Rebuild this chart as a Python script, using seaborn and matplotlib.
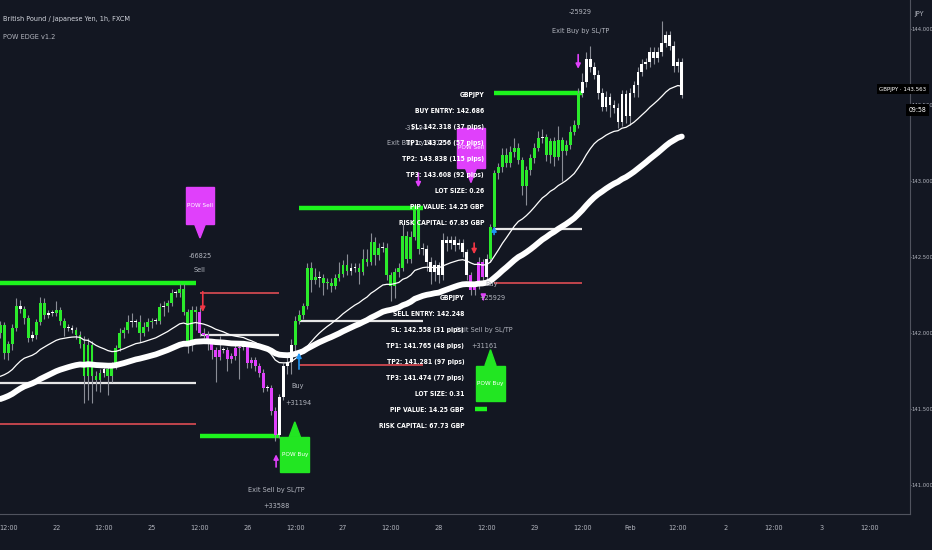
import numpy as np
import matplotlib
matplotlib.use("Agg")
import matplotlib.pyplot as plt
import seaborn as sns
from matplotlib.patches import Rectangle, Polygon

# ---- candle data (GBPJPY 1h) ----
first_open = 142.00
closes = [
    142.05, 141.87, 141.93, 142.03, 142.18, 142.16, 142.10, 141.97, 141.99, 142.07,
    142.20, 142.12, 142.13, 142.13, 142.15, 142.08, 142.03, 142.03, 142.02, 141.99,
    141.93, 141.72, 141.92, 141.72, 141.69, 141.74, 141.76, 141.72, 141.79, 141.90,
    142.00, 142.02, 142.07, 142.07, 142.07, 142.00, 142.04, 142.07, 142.08, 142.08,
    142.17, 142.18, 142.20, 142.26, 142.26, 142.29, 142.14, 141.94, 142.15, 142.14,
    142.00, 141.99, 141.93, 141.89, 141.84, 141.89, 141.89, 141.83, 141.85, 141.90,
    141.91, 141.91, 141.80, 141.82, 141.78, 141.74, 141.64, 141.64, 141.49, 141.33,
    141.58, 141.78, 141.81, 141.92, 142.08, 142.12, 142.18, 142.43, 142.35, 142.37,
    142.36, 142.33, 142.33, 142.31, 142.36, 142.39, 142.45, 142.41, 142.43, 142.43,
    142.40, 142.49, 142.47, 142.60, 142.51, 142.56, 142.56, 142.38, 142.31, 142.40,
    142.43, 142.64, 142.49, 142.63, 142.82, 142.55, 142.55, 142.47, 142.40, 142.45,
    142.38, 142.61, 142.59, 142.61, 142.58, 142.59, 142.53, 142.38, 142.28, 142.31,
    142.47, 142.37, 142.49, 142.70, 143.05, 143.09, 143.17, 143.12, 143.19, 143.22,
    143.14, 142.97, 143.07, 143.15, 143.22, 143.28, 143.29, 143.17, 143.26, 143.16,
    143.27, 143.20, 143.24, 143.32, 143.37, 143.58, 143.65, 143.80, 143.75, 143.70,
    143.58, 143.49, 143.55, 143.50, 143.48, 143.39, 143.57, 143.43, 143.58, 143.63,
    143.72, 143.77, 143.78, 143.85, 143.81, 143.85, 143.91, 143.96, 143.89, 143.76,
    143.78, 143.563,
]
# wicks beyond the body, in pips
wick_up = [
    3, 2, 2, 3, 5, 4, 2, 2, 2, 2, 4, 3, 2, 2, 6, 2, 2, 3, 2, 2,
    2, 5, 5, 3, 3, 2, 2, 3, 2, 2, 3, 2, 5, 6, 2, 5, 3, 3, 2, 2,
    3, 3, 2, 3, 2, 3, 3, 2, 3, 3, 3, 3, 2, 2, 2, 9, 2, 2, 2, 2,
    2, 2, 3, 2, 2, 2, 2, 2, 2, 2, 2, 2, 3, 4, 3, 3, 2, 3, 4, 6,
    4, 3, 3, 3, 3, 8, 3, 7, 3, 3, 3, 6, 6, 6, 3, 3, 4, 3, 2, 3,
    3, 8, 3, 4, 2, 2, 4, 3, 3, 3, 2, 5, 3, 3, 3, 3, 3, 2, 2, 2,
    3, 2, 3, 2, 2, 3, 5, 5, 4, 6, 3, 2, 3, 3, 3, 5, 5, 2, 2, 3,
    9, 2, 3, 4, 3, 3, 6, 5, 9, 3, 3, 3, 4, 3, 3, 3, 3, 3, 3, 3,
    3, 3, 3, 3, 3, 3, 14, 3, 3, 3, 3, 3,
]
wick_dn = [
    3, 4, 5, 4, 2, 3, 4, 3, 2, 3, 2, 3, 2, 2, 2, 3, 5, 2, 2, 3,
    3, 18, 16, 18, 7, 8, 3, 13, 4, 3, 2, 3, 2, 3, 3, 6, 2, 3, 4, 2,
    2, 6, 4, 2, 2, 2, 2, 7, 6, 12, 2, 2, 4, 6, 16, 2, 2, 8, 3, 3,
    20, 2, 3, 3, 3, 3, 3, 2, 3, 4, 2, 2, 5, 8, 4, 2, 3, 2, 8, 3,
    6, 8, 4, 4, 2, 2, 2, 3, 3, 3, 8, 2, 3, 2, 6, 3, 3, 3, 10, 8,
    3, 2, 3, 3, 2, 3, 4, 6, 8, 6, 5, 3, 5, 4, 4, 3, 3, 3, 3, 3,
    2, 3, 3, 2, 2, 4, 3, 3, 3, 3, 3, 6, 13, 3, 3, 2, 3, 4, 5, 6,
    2, 20, 3, 3, 2, 2, 3, 3, 3, 3, 4, 3, 3, 8, 3, 4, 3, 5, 6, 3,
    8, 3, 3, 3, 4, 3, 3, 3, 3, 4, 4, 2,
]
# bar colouring of the indicator: g = bull, m = bear, w = neutral
bar_state = ("ggggg" "w" "gg" "w" "ggg" "ww" "ggg" "ww" "ggggggg" "w" "gggggg" "ww"
             "gggg" "w" "g" "w" "gg" "w" "ggggg"
             "mmmmmm" "w" "mmmm" "w" "mmmmm" "w" "mm"
             "wwww" "gggggg" "w" "ggggggg" "ww" "gggggg" "w" "ggggggggg"
             "wwwwwwwwwwww" "mmmm" "w" "ggggggggggggg" "w" "ggggggggg" + "w" * 26)

# trade levels: start bar, end bar, entry, stop loss, take profit
trade_start = [-1, 50, 75, 119, 124]
trade_end = [49, 70, 106, 122, 146]
trade_entry = [141.67, 141.99, 142.08, np.nan, 142.686]
trade_sl = [141.40, 142.26, 141.79, np.nan, 142.33]
trade_tp = [142.33, 141.32, 142.82, 141.50, 143.58]

tick_pos = [2 + 12 * k for k in range(19)]
tick_labels = ["12:00", "22", "12:00", "25", "12:00", "26", "12:00", "27", "12:00", "28",
               "12:00", "29", "12:00", "Feb", "12:00", "2", "12:00", "3", "12:00"]
price_ticks = [141.0, 141.5, 142.0, 142.5, 143.0, 143.5, 144.0]

sell_block = ["GBPJPY", "SELL ENTRY: 142.248", "SL: 142.558 (31 pips)", "TP1: 141.765 (48 pips)",
              "TP2: 141.281 (97 pips)", "TP3: 141.474 (77 pips)", "LOT SIZE: 0.31",
              "PIP VALUE: 14.25 GBP", "RISK CAPITAL: 67.73 GBP"]
buy_block = ["GBPJPY", "BUY ENTRY: 142.686", "SL: 142.318 (37 pips)", "TP1: 143.256 (57 pips)",
             "TP2: 143.838 (115 pips)", "TP3: 143.608 (92 pips)", "LOT SIZE: 0.26",
             "PIP VALUE: 14.25 GBP", "RISK CAPITAL: 67.85 GBP"]

BG = "#131722"
TXT = "#b2b5be"
GREEN = "#2bea2b"
LINE_GREEN = "#1df51d"
MAGENTA = "#e040fb"
RED = "#c0454d"
colours = {"g": GREEN, "m": MAGENTA, "w": "#ffffff"}

sns.set_style("dark", {"axes.facecolor": BG, "figure.facecolor": BG})
plt.rcParams["font.family"] = ["Liberation Sans Narrow", "DejaVu Sans"]
plt.rcParams["font.stretch"] = "condensed"

fig = plt.figure(figsize=(9.32, 5.5), dpi=100)
ax = fig.add_axes([0, 36 / 550, 910 / 932, 514 / 550])
ax.set_facecolor(BG)

idx = np.arange(len(closes))
c = np.array(closes)
o = np.concatenate([[first_open], c[:-1]])
hi = np.maximum(o, c) + np.array(wick_up) * 0.01
lo = np.minimum(o, c) - np.array(wick_dn) * 0.01
cols = [colours[s] for s in bar_state]

# trade lines
for s, e, en, sl, tp in zip(trade_start, trade_end, trade_entry, trade_sl, trade_tp):
    ax.hlines(tp, s, e, color=LINE_GREEN, lw=3.2, zorder=2)
    if not np.isnan(en):
        ax.hlines(en, s, e, color="#e6e6e6", lw=1.6, zorder=2)
        ax.hlines(sl, s, e, color=RED, lw=1.4, zorder=2)

# candles
ax.vlines(idx, lo, hi, color="#8a8d96", lw=0.8, zorder=3)
body = np.where(np.abs(c - o) < 0.007, 0.007, c - o)
ax.bar(idx, body, bottom=o, width=0.72, color=cols, linewidth=0, zorder=4)


# moving averages
def ema(values, period, seed):
    a = 2 / (period + 1)
    out, prev = [], seed
    for v in values:
        prev = prev + a * (v - prev)
        out.append(prev)
    return np.array(out)


fast = ema(c, 28, 141.69)
slow = ema(c, 64, 141.55)
sns.lineplot(x=idx, y=fast, ax=ax, color="white", lw=0.9, zorder=5)
sns.lineplot(x=idx, y=slow, ax=ax, color="white", lw=4.2, zorder=5)


def tag(x, y, s, size=5.2, col=TXT, ha="center", weight="normal"):
    ax.text(x, y, s, color=col, fontsize=size, ha=ha, va="center", fontweight=weight, zorder=8)


def signal_box(x, tip, top, bottom, colour, text, down=True):
    ax.add_patch(Rectangle((x - 3.6, bottom), 7.2, top - bottom, color=colour, zorder=7))
    base = bottom if down else top
    ax.add_patch(Polygon([(x - 1.4, base), (x + 1.4, base), (x, tip)], color=colour, zorder=7))
    tag(x, (top + bottom) / 2, text, size=4.6, col="white")


def arrow(x, y0, y1, colour):
    ax.annotate("", xy=(x, y1), xytext=(x, y0), zorder=8,
                arrowprops=dict(arrowstyle="-|>", color=colour, lw=1.2, mutation_scale=7))


def block(x, y, lines):
    for k, s in enumerate(lines):
        ax.annotate(s, xy=(x, y), xytext=(0, -11.5 * k), textcoords="offset points",
                    color="white", fontsize=4.9, ha="right", va="center", fontweight="bold", zorder=9)


# signals and exits
signal_box(50.1, 142.625, 142.96, 142.72, MAGENTA, "POW Sell")
tag(50.1, 142.507, "-66825")
tag(50.1, 142.415, "Sell")
arrow(50.8, 142.29, 142.12, "#f23645")

signal_box(73.9, 141.415, 141.316, 141.086, "#22e622", "POW Buy", down=False)
tag(74.7, 141.652, "Buy")
tag(74.7, 141.54, "+31194")
arrow(74.95, 141.744, 141.889, "#2196f3")
arrow(69.2, 141.10, 141.22, MAGENTA)
tag(69.2, 140.967, "Exit Sell by SL/TP")
tag(69.2, 140.862, "+33588")

arrow(104.9, 143.07, 142.94, MAGENTA)
tag(104.3, 143.349, "-31194")
tag(104.3, 143.25, "Exit Buy by SL/TP")

signal_box(118.1, 142.99, 143.349, 143.086, MAGENTA, "POW Sell")
arrow(118.9, 142.61, 142.50, "#f23645")
arrow(121.2, 142.24, 142.20, MAGENTA)
block(116.4, 142.23, sell_block)
tag(121.4, 142.02, "Exit Sell by SL/TP")
tag(121.4, 141.915, "+31161")
signal_box(123.0, 141.89, 141.785, 141.55, "#22e622", "POW Buy", down=False)

tag(123.4, 142.323, "Buy")
tag(123.4, 142.23, "+25929")
arrow(123.9, 142.63, 142.72, "#2196f3")
block(121.4, 143.566, buy_block)

arrow(145.0, 143.85, 143.72, MAGENTA)
tag(145.5, 143.99, "Exit Buy by SL/TP")
tag(145.5, 144.11, "-25929")

# axes
ax.set_xlim(-0.083, 228.27)
ax.set_ylim(140.809, 144.191)
ax.set_xticks(tick_pos)
ax.set_xticklabels(tick_labels)
ax.yaxis.tick_right()
ax.set_yticks(price_ticks)
ax.set_yticklabels([f"{v:.3f}" for v in price_ticks])
ax.tick_params(colors=TXT, labelsize=5.2, length=2, width=0.6, pad=1)
ax.tick_params(axis="y", labelsize=4.2, length=1, pad=0.3)
ax.tick_params(axis="x", pad=6)
ax.grid(False)
for side in ["top", "left"]:
    ax.spines[side].set_visible(False)
for side in ["right", "bottom"]:
    ax.spines[side].set_visible(True)
    ax.spines[side].set_color("#50535e")
    ax.spines[side].set_linewidth(0.8)
ax.set_xlabel("")
ax.set_ylabel("")

fig.text(3 / 932, 1 - 19 / 550, "British Pound / Japanese Yen, 1h, FXCM", color="#d1d4dc",
         fontsize=5.2, va="center")
fig.text(3 / 932, 1 - 37 / 550, "POW EDGE v1.2", color=TXT, fontsize=5.2, va="center")
fig.text(919 / 932, 1 - 14 / 550, "JPY", color=TXT, fontsize=5.2, ha="center", va="center")
fig.text(0.994, 1 - 89 / 550, "GBPJPY · 143.563", color="white", fontsize=4.4, ha="right",
         va="center", bbox=dict(facecolor="black", edgecolor="none", pad=2))
fig.text(0.994, 1 - 110 / 550, "09:58", color="white", fontsize=5.0, ha="right", va="center",
         bbox=dict(facecolor="black", edgecolor="none", pad=2))

fig.savefig("out.png", dpi=100, facecolor=BG)
